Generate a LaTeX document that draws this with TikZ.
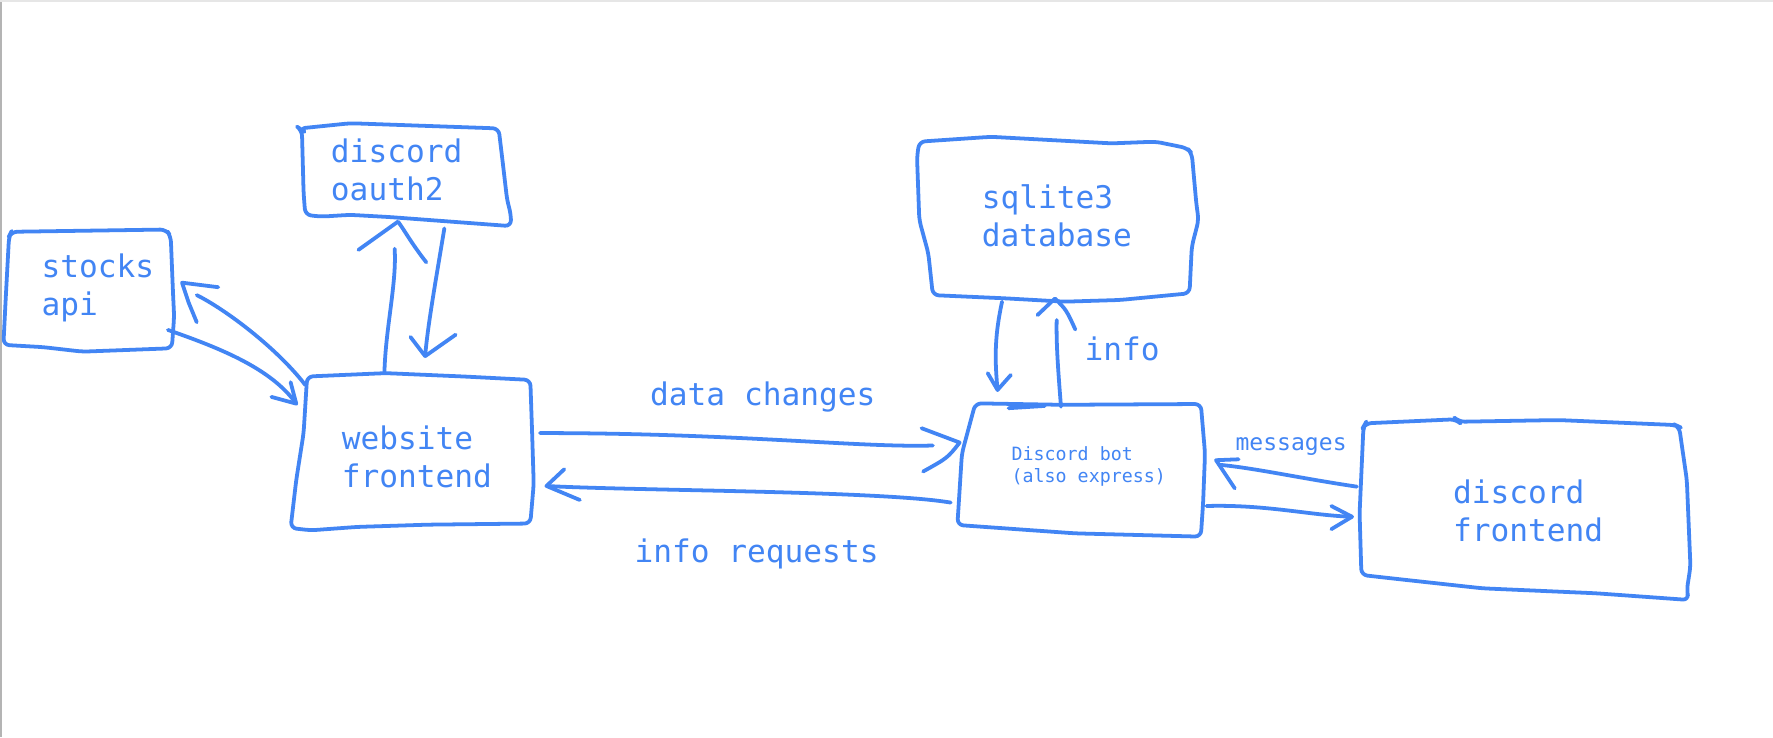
\documentclass[tikz,border=0pt]{standalone}
\usepackage{fontspec}
\setmonofont{DejaVu Sans Mono}
\definecolor{gblue}{HTML}{4285F4}
\definecolor{edgegray}{HTML}{B4B4B4}
\definecolor{topgray}{HTML}{E6E6E6}
\tikzset{
  hand/.style={draw=gblue, line width=0.95pt, line cap=round, line join=round},
  boxline/.style={hand, rounded corners=1.5pt},
  bigtext/.style={text=gblue, font=\ttfamily\fontsize{7.84pt}{9.67pt}\selectfont, inner sep=0pt, align=left, anchor=base west},
  midtext/.style={text=gblue, font=\ttfamily\fontsize{5.8pt}{7pt}\selectfont, inner sep=0pt, anchor=base west},
  smalltext/.style={text=gblue, font=\ttfamily\fontsize{4.6pt}{5.55pt}\selectfont, inner sep=0pt, align=left, anchor=base west},
}
\begin{document}
\begin{tikzpicture}[x=0.01cm, y=-0.01cm]
\useasboundingbox (0,0) rectangle (1568,652);
\fill[white] (0,0) rectangle (1568,652);
% screenshot edges
\fill[edgegray] (0,0) rectangle (2,652);
\fill[topgray] (0,0) rectangle (1568,1.5);

% ---- boxes (anchor = baseline of the last line) ----
\draw[boxline] (8,209) -- (10,205) -- (147,203) -- (151,209) -- (153,259) -- (154,280) -- (152,308) -- (73,311) -- (38,307) -- (3,305) -- (5,265) -- cycle;
\node[bigtext] (stocks) at (36,279) {stocks\\api};

\draw[boxline] (267,115) -- (265,113.6) -- (310,109) -- (441,113.6) -- (445,147) -- (448.5,177) -- (451.7,189) -- (452,200) -- (345,192) -- (309.5,190) -- (284,191.6) -- (270,190) -- (268.5,171) -- cycle;
\node[bigtext] (oauth) at (292,177.5) {discord\\oauth2};

\draw[boxline] (271.6,333) -- (341,330) -- (410.6,333) -- (469,336) -- (470.6,383) -- (472,428) -- (469,463) -- (379,464) -- (316,466) -- (275,469) -- (257,467) -- (262,424.5) -- (268.5,383) -- cycle;
\node[bigtext] (web) at (301.6,431.3) {website\\frontend};

\draw[boxline] (813,125.3) -- (876.4,121) -- (983,126.8) -- (1022,125.3) -- (1050,131) -- (1054,135.6) -- (1058,180) -- (1060,194.6) -- (1054,218) -- (1052,259.4) -- (990.5,265.3) -- (941.5,266.8) -- (888,263.8) -- (825,261) -- (821,224) -- (813,194.6) -- (811,138.6) -- cycle;
\node[bigtext] (db) at (867.6,218.2) {sqlite3\\database};

\draw[boxline] (862.6,356.7) -- (939,358) -- (1062,357.3) -- (1065.7,401) -- (1064,445) -- (1062,474.6) -- (951,471.7) -- (846.7,464.3) -- (850.7,401) -- (858.6,371.5) -- cycle;
\draw[hand] (892,361) -- (924,359);
\node[smalltext] (bot) at (894,426.9) {Discord bot\\(also express)};

\draw[boxline] (1207.5,374.4) -- (1287.7,370.8) -- (1290,373) -- (1377.9,371.5) -- (1481.8,375.9) -- (1485,377.4) -- (1491.8,424.5) -- (1495,501.2) -- (1491.8,521.8) -- (1493.5,530.6) -- (1411.6,524.7) -- (1311,520.3) -- (1244.4,513) -- (1204,508.5) -- (1202.4,454) -- (1205.8,377.4) -- cycle;
\node[bigtext] (dfront) at (1284.4,479) {discord\\frontend};

% ---- connector end points ----
\coordinate (swA) at (148.5,291.8); \coordinate (swB) at (262,357);
\coordinate (wsA) at (270,340.5);   \coordinate (wsB) at (174,261);
\coordinate (woA) at (340,329);     \coordinate (woB) at (349,220);
\coordinate (owA) at (393,202);     \coordinate (owB) at (376,315);
\coordinate (wbA) at (477.6,383);   \coordinate (wbB) at (825,394);
\coordinate (bwA) at (840.8,444.5); \coordinate (bwB) at (483.3,429.8);
\coordinate (dbA) at (886.2,266.8); \coordinate (dbB) at (882.2,344.9);
\coordinate (bdA) at (938.3,359.7); \coordinate (bdB) at (934.5,283);
\coordinate (fbA) at (1200,430.4);  \coordinate (fbB) at (1078,411);
\coordinate (bfA) at (1067,447.5);  \coordinate (bfB) at (1195.7,457);

% stocks api -> website frontend
\draw[hand] (swA) .. controls (195,308) and (240,326) .. (swB);
\draw[hand] (240,351) -- (swB) -- (257,338);
% website frontend -> stocks api
\draw[hand] (wsA) .. controls (245,308) and (200,274) .. (wsB);
\draw[hand] (193,254) -- (161,250) -- (167,268) -- (174,285);
% website -> oauth2
\draw[hand] (woA) .. controls (341,290) and (351,250) .. (woB);
\draw[hand] (317,221) -- (352,196) .. controls (358,204) and (363,214) .. (377,232);
% oauth2 -> website
\draw[hand] (owA) .. controls (385,250) and (378,290) .. (owB);
\draw[hand] (363,298) -- (owB) -- (403,296);
% data changes
\draw[hand] (wbA) .. controls (650,383) and (760,396) .. (wbB);
\draw[hand] (815,378.7) -- (848.7,391.4) .. controls (838,405) .. (816.4,417);
\node[bigtext] (lblData) at (574.3,359) {data changes};
% info requests
\draw[hand] (bwA) .. controls (780,434) and (560,434) .. (bwB);
\draw[hand] (499,415) -- (bwB) -- (512.8,442.2);
\node[bigtext] (lblReq) at (560.5,497.6) {info requests};
% database -> bot
\draw[hand] (dbA) .. controls (879,300) and (880,320) .. (dbB);
\draw[hand] (873.5,330) -- (dbB) -- (894,331.6);
% bot -> database
\draw[hand] (bdA) .. controls (936,330) and (934,305) .. (bdB);
\draw[hand] (917.5,278.7) -- (933,264) .. controls (943,274) .. (951,291.4);
\node[bigtext] (lblInfo) at (958.5,319) {info};
% discord frontend -> bot
\draw[hand] (fbA) .. controls (1150,423) and (1110,414) .. (fbB);
\draw[hand] (1095.4,406.2) -- (1075.4,407) -- (1092,431.9);
\node[midtext] (lblMsg) at (1092,398.6) {messages};
% bot -> discord frontend
\draw[hand] (bfA) .. controls (1120,446) and (1160,456) .. (bfB);
\draw[hand] (1177.4,447.5) -- (bfB) -- (1177.4,468);
\end{tikzpicture}
\end{document}
